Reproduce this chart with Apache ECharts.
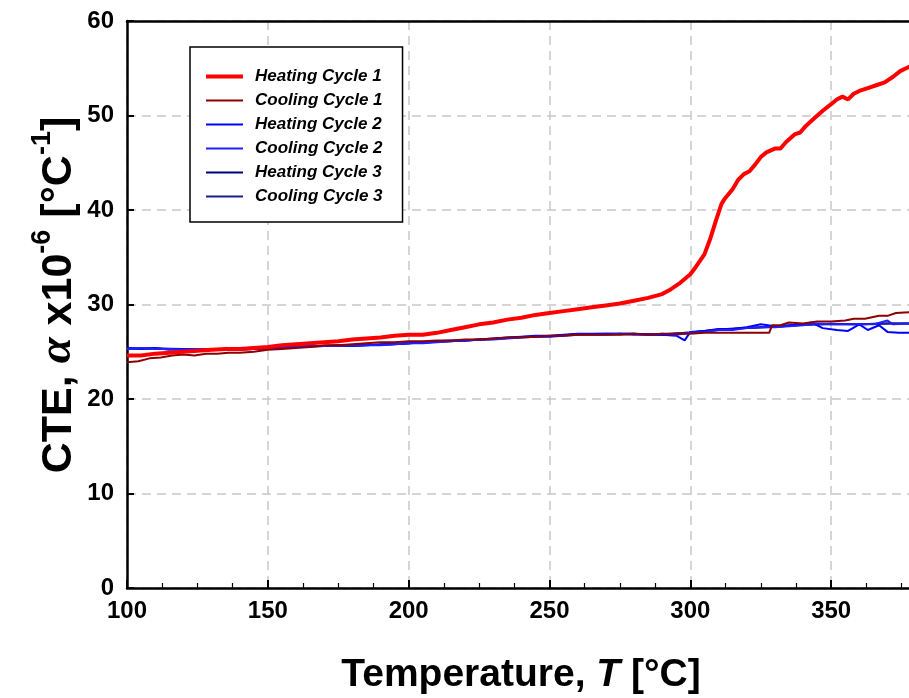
<!DOCTYPE html>
<html>
<head>
<meta charset="utf-8">
<script src="https://cdn.jsdelivr.net/npm/echarts@6/dist/echarts.min.js"></script>
<style>html,body{margin:0;padding:0;background:#fff;}#c{width:909px;height:698px;}</style>
</head>
<body>
<div id="c"></div>
<script>
// ---- data ----
const xTicks = [100, 150, 200, 250, 300, 350, 400];
const yTicks = [0, 10, 20, 30, 40, 50, 60];
const seriesNames = ['Heating Cycle 1', 'Cooling Cycle 1', 'Heating Cycle 2', 'Cooling Cycle 2', 'Heating Cycle 3', 'Cooling Cycle 3'];

const heat1T = [100,105,110,115,120,125,130,135,140,145,150,155,160,165,170,175,180,185,190,195,200,205,210,215,220,225,230,235,240,245,250,255,260,265,270,275,280,285,290,293,296,298,300,302,305,307,309,311,312,315,317,319,321,323,325,327,330,332,334,337,339,341,344,347,350,352,354,356,358,360,363,366,369,372,374.5,378,380];
const heat1V = [24.6,24.6,24.8,24.9,25.0,25.1,25.2,25.3,25.3,25.4,25.5,25.7,25.8,25.9,26.0,26.1,26.3,26.4,26.5,26.7,26.8,26.8,27.0,27.3,27.6,27.9,28.1,28.4,28.6,28.9,29.1,29.3,29.5,29.7,29.9,30.1,30.4,30.7,31.1,31.6,32.2,32.7,33.2,34.0,35.3,36.9,38.8,40.6,41.1,42.2,43.2,43.8,44.1,44.8,45.6,46.1,46.5,46.5,47.2,48.0,48.2,48.9,49.7,50.5,51.2,51.7,52.0,51.7,52.3,52.6,52.9,53.2,53.5,54.1,54.7,55.2,55.5];

const cool1T = [100,104,108,112,116,120,124,128,132,136,140,145,150,155,160,165,170,175,180,185,190,195,200,205,210,215,220,225,230,235,240,245,250,255,260,265,270,275,280,285,290,295,300,305,310,315,320,325,328,329,332,335,340,345,350,355,358,362,367,370,373,378,380];
const cool1V = [23.9,24.0,24.3,24.4,24.6,24.7,24.6,24.8,24.8,24.9,24.9,25.0,25.2,25.3,25.4,25.5,25.7,25.7,25.8,25.9,26.0,26.0,26.1,26.1,26.2,26.2,26.3,26.3,26.4,26.5,26.5,26.6,26.7,26.7,26.8,26.8,26.8,26.8,26.9,26.8,26.9,26.9,26.9,27.0,27.0,27.0,27.0,27.0,27.0,27.8,27.8,28.1,28.0,28.2,28.2,28.3,28.5,28.5,28.8,28.8,29.1,29.2,29.2];

const heat2T = [100,105,110,115,120,125,130,135,140,145,150,155,160,165,170,175,180,185,190,195,200,205,210,215,220,225,230,235,240,245,250,255,260,265,270,275,280,285,290,295,298,300,305,310,315,320,325,330,335,340,343,347,352,356,360,363,367,370,374,378,380];
const heat2V = [25.4,25.3,25.4,25.2,25.3,25.2,25.3,25.2,25.3,25.4,25.3,25.5,25.5,25.6,25.6,25.7,25.6,25.7,25.8,25.8,25.9,26.0,26.1,26.2,26.2,26.3,26.4,26.5,26.6,26.7,26.7,26.8,26.9,26.9,26.9,26.9,26.9,26.8,26.8,26.7,26.2,27.1,27.2,27.4,27.4,27.6,27.9,27.7,27.8,27.9,28.1,27.5,27.3,27.2,27.9,27.3,27.8,27.1,27.0,27.0,27.0];

const cool2T = [100,105,110,115,120,125,130,135,140,145,150,155,160,165,170,175,180,185,190,195,200,205,210,215,220,225,230,235,240,245,250,255,260,265,270,275,280,285,290,295,300,305,310,315,320,325,330,335,340,345,350,355,360,365,370,372,378,380];
const cool2V = [25.3,25.4,25.3,25.3,25.2,25.3,25.3,25.3,25.2,25.3,25.4,25.4,25.5,25.6,25.6,25.6,25.7,25.7,25.7,25.8,25.9,25.9,26.0,26.1,26.2,26.3,26.3,26.4,26.5,26.6,26.6,26.7,26.8,26.8,26.8,26.9,26.8,26.8,26.9,26.8,27.0,27.1,27.3,27.3,27.5,27.6,27.6,27.7,27.8,28.0,27.9,27.9,27.9,27.9,28.3,27.9,28.0,28.0];

const heat3T = [100,110,120,130,140,150,160,170,180,190,200,210,220,230,240,250,260,270,280,290,300,310,320,330,340,350,360,370,380];
const heat3V = [25.35,25.35,25.3,25.3,25.3,25.35,25.5,25.6,25.65,25.75,25.9,26.05,26.2,26.35,26.55,26.65,26.85,26.9,26.9,26.8,27.05,27.35,27.55,27.65,27.85,27.95,27.9,28.0,28.0];
const cool3T = [100,110,120,130,140,150,160,170,180,190,200,210,220,230,240,250,260,270,280,290,300,310,320,330,340,350,360,370,380];
const cool3V = [25.35,25.35,25.25,25.3,25.25,25.35,25.5,25.6,25.65,25.75,25.9,26.05,26.2,26.35,26.55,26.65,26.85,26.85,26.85,26.85,27.05,27.3,27.5,27.65,27.85,27.9,27.9,28.0,28.0];

// ---- styling ----
const FONT = "'Liberation Sans', Arial, Helvetica, sans-serif";
const colors = ['#ff0000', '#8b0000', '#0000ff', '#1f1fff', '#000080', '#1c1c94'];
const widths = [4, 2, 2, 2, 2, 2];
const zs = [10, 6, 5, 5, 3, 3];
const xs = [heat1T, cool1T, heat2T, cool2T, heat3T, cool3T];
const ys = [heat1V, cool1V, heat2V, cool2V, heat3V, cool3V];

const series = seriesNames.map((n, i) => ({
  name: n,
  type: 'line',
  data: xs[i].map((t, k) => [t, ys[i][k]]),
  showSymbol: false,
  symbol: 'none',
  z: zs[i],
  lineStyle: { color: colors[i], width: widths[i] },
  itemStyle: { color: colors[i] },
  emphasis: { disabled: true }
}));

const dashed = { show: true, lineStyle: { color: '#c8c8c8', width: 1.5, type: [9, 6] } };

const chart = echarts.init(document.getElementById('c'), null, { renderer: 'canvas' });
chart.setOption({
  animation: false,
  backgroundColor: '#fff',
  grid: { left: 127, top: 21, width: 845, height: 567, show: false, containLabel: false, outerBoundsMode: 'none' },
  xAxis: [{
    type: 'value', min: xTicks[0], max: xTicks[xTicks.length - 1], interval: 50, z: 2,
    axisLine: { show: true, onZero: false, lineStyle: { color: '#000', width: 2.5 } },
    axisTick: { show: true, inside: true, length: 8, lineStyle: { color: '#000', width: 2 } },
    minorTick: { show: true, splitNumber: 4, length: 5, lineStyle: { color: '#000', width: 1.2 } },
    axisLabel: { margin: 11, color: '#000', fontFamily: FONT, fontWeight: 'bold', fontSize: 24 },
    splitLine: dashed
  }, {
    type: 'value', position: 'top', min: xTicks[0], max: xTicks[xTicks.length - 1], interval: 50, z: 20,
    axisLine: { show: true, onZero: false, lineStyle: { color: '#000', width: 2.5 } },
    axisTick: { show: false }, axisLabel: { show: false }, splitLine: { show: false }
  }],
  yAxis: {
    type: 'value', min: yTicks[0], max: yTicks[yTicks.length - 1], interval: 10, z: 2,
    axisLine: { show: true, onZero: false, lineStyle: { color: '#000', width: 2.5 } },
    axisTick: { show: true, inside: true, length: 7, lineStyle: { color: '#000', width: 2 } },
    axisLabel: { margin: 13, color: '#000', fontFamily: FONT, fontWeight: 'bold', fontSize: 24 },
    splitLine: dashed
  },
  legend: {
    orient: 'vertical', left: 190, top: 47,
    padding: [21, 20, 17, 16],
    itemGap: 7, itemWidth: 37, itemHeight: 14,
    backgroundColor: '#fff', borderColor: '#000', borderWidth: 1.5, borderRadius: 0,
    selectedMode: false,
    data: seriesNames.map((n, i) => ({
      name: n,
      icon: widths[i] === 4 ? 'path://M0,0H37V4H0Z' : 'path://M0,0H37V2H0Z',
      itemStyle: { color: colors[i] }
    })),
    textStyle: { fontFamily: FONT, fontWeight: 'bold', fontStyle: 'italic', fontSize: 17, color: '#000', padding: [0, 0, 0, 7] }
  },
  graphic: [
    {
      type: 'text', x: 521, y: 675, z: 100,
      style: {
        text: '{b|Temperature, }{i|T}{b| [°C]}',
        align: 'center', verticalAlign: 'middle',
        rich: {
          b: { fontFamily: FONT, fontWeight: 'bold', fontSize: 39, fill: '#000' },
          i: { fontFamily: FONT, fontWeight: 'bold', fontStyle: 'italic', fontSize: 39, fill: '#000' }
        }
      }
    },
    {
      type: 'text', x: 55, y: 295, rotation: Math.PI / 2, z: 100,
      style: {
        text: '{b|CTE, }{a|α}{b| x10}{s|-6}{b| [°C}{s|-1}{b|]}',
        align: 'center', verticalAlign: 'middle',
        rich: {
          b: { fontFamily: FONT, fontWeight: 'bold', fontSize: 43, lineHeight: 52, verticalAlign: 'bottom', fill: '#000' },
          a: { fontFamily: "'Liberation Serif', 'Times New Roman', serif", fontWeight: 'bold', fontStyle: 'italic', fontSize: 47, lineHeight: 52, verticalAlign: 'bottom', fill: '#000' },
          s: { fontFamily: FONT, fontWeight: 'bold', fontSize: 27, lineHeight: 52, verticalAlign: 'top', fill: '#000' }
        }
      }
    }
  ],
  series: series
});
</script>
</body>
</html>
